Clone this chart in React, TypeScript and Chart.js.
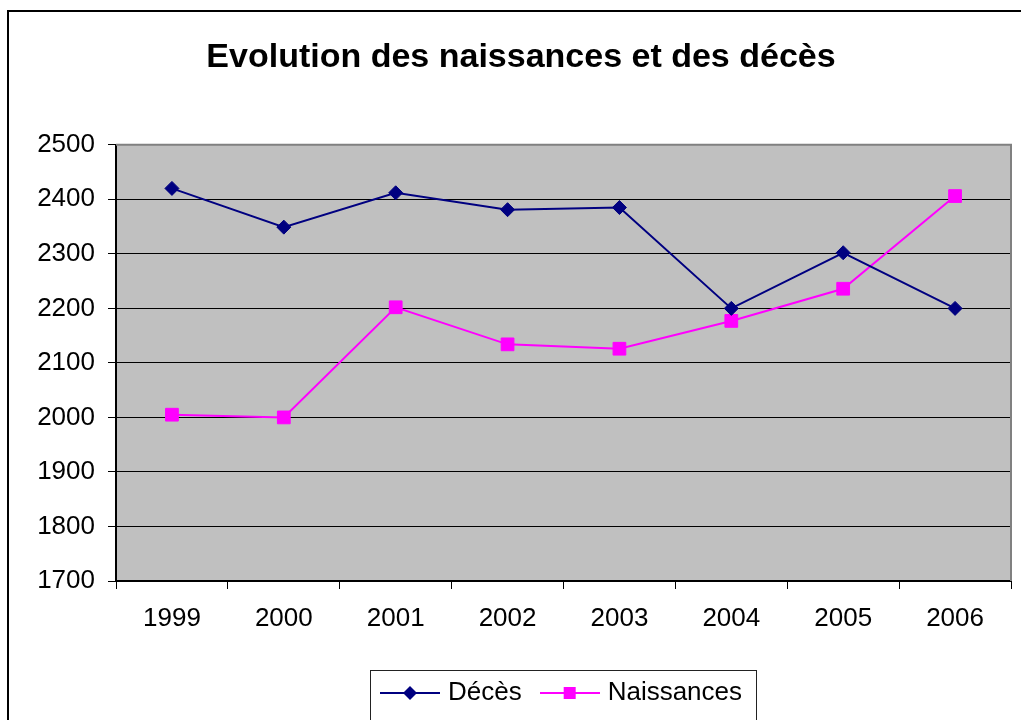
import React, { useEffect, useRef } from "react";
import { Chart, registerables } from "chart.js";

Chart.register(...registerables);

const years = ["1999", "2000", "2001", "2002", "2003", "2004", "2005", "2006"];
const deces = [2420, 2349, 2412, 2381, 2385, 2200, 2302, 2200];
const naissances = [2005, 2000, 2202, 2134, 2126, 2177, 2236, 2406];
const seriesNames = ["Décès", "Naissances"];
const yMin = 1700;
const yMax = 2500;
const yStep = 100;
const titleText = "Evolution des naissances et des décès";

const FONT = "'Liberation Sans', Arial, Helvetica, sans-serif";
const DECES_COLOR = "#000080";
const NAISS_COLOR = "#FF00FF";

function legendIcon(color: string, kind: "diamond" | "square"): HTMLCanvasElement {
  const c = document.createElement("canvas");
  c.width = 60;
  c.height = 20;
  const ctx = c.getContext("2d")!;
  ctx.strokeStyle = color;
  ctx.lineWidth = 2;
  ctx.beginPath();
  ctx.moveTo(0, 10);
  ctx.lineTo(60, 10);
  ctx.stroke();
  ctx.fillStyle = color;
  if (kind === "diamond") {
    ctx.beginPath();
    ctx.moveTo(30, 3);
    ctx.lineTo(37, 10);
    ctx.lineTo(30, 17);
    ctx.lineTo(23, 10);
    ctx.closePath();
    ctx.fill();
  } else {
    ctx.fillRect(24, 4, 12, 12);
  }
  return c;
}

const framePlugin = {
  id: "excelFrame",
  beforeDraw(chart: any) {
    const { ctx, chartArea: a } = chart;
    ctx.save();
    ctx.fillStyle = "#FFFFFF";
    ctx.fillRect(0, 0, chart.width, chart.height);
    ctx.fillStyle = "#C0C0C0";
    ctx.fillRect(a.left, a.top, a.right - a.left, a.bottom - a.top);
    ctx.restore();
  },
  afterDraw(chart: any) {
    const { ctx, chartArea: a } = chart;
    ctx.save();
    ctx.strokeStyle = "#808080";
    ctx.lineWidth = 2;
    ctx.beginPath();
    ctx.moveTo(a.left, a.top);
    ctx.lineTo(a.right, a.top);
    ctx.lineTo(a.right, a.bottom);
    ctx.stroke();
    ctx.strokeStyle = "#000000";
    ctx.lineWidth = 2;
    ctx.strokeRect(8, 11, 3000, 3000);
    const lg = chart.legend;
    const hb = lg && lg.legendHitBoxes;
    if (hb && hb.length) {
      const first = hb[0];
      const last = hb[hb.length - 1];
      const left = first.left - 15;
      const right = last.left + last.width + 14;
      const top = first.top - 10;
      const bottom = first.top + first.height + 23;
      ctx.strokeStyle = "#222222";
      ctx.lineWidth = 1;
      ctx.strokeRect(Math.round(left) + 0.5, Math.round(top) + 0.5, Math.round(right - left), Math.round(bottom - top));
    }
    ctx.restore();
  },
};

export default function App() {
  const ref = useRef<HTMLCanvasElement>(null);

  useEffect(() => {
    if (!ref.current) return;
    Chart.defaults.font.family = FONT;
    const icons = [legendIcon(DECES_COLOR, "diamond"), legendIcon(NAISS_COLOR, "square")];
    const chart = new Chart(ref.current, {
      type: "line",
      data: {
        labels: years,
        datasets: [
          {
            label: seriesNames[0],
            data: deces,
            borderColor: DECES_COLOR,
            backgroundColor: DECES_COLOR,
            borderWidth: 2,
            pointStyle: "rectRot",
            pointRadius: 7,
            pointBorderWidth: 1,
            tension: 0,
          },
          {
            label: seriesNames[1],
            data: naissances,
            borderColor: NAISS_COLOR,
            backgroundColor: NAISS_COLOR,
            borderWidth: 2,
            pointStyle: "rect",
            pointRadius: 9,
            pointBorderWidth: 1,
            tension: 0,
          },
        ],
      },
      options: {
        responsive: false,
        animation: false,
        layout: { padding: { left: 28, right: 7, top: 0, bottom: 4 } },
        plugins: {
          title: {
            display: true,
            text: titleText,
            color: "#000000",
            font: { family: FONT, size: 34, weight: "bold" },
            padding: { top: 37, bottom: 67 },
          },
          legend: {
            display: true,
            position: "bottom",
            fullSize: false,
            labels: {
              color: "#000000",
              font: { family: FONT, size: 26 },
              usePointStyle: true,
              pointStyleWidth: 50,
              padding: 23,
              generateLabels: (c: any) => {
                const items = (Chart.defaults as any).plugins.legend.labels.generateLabels(c);
                items.forEach((it: any, i: number) => {
                  it.pointStyle = icons[i];
                });
                return items;
              },
            },
          },
          tooltip: { enabled: false },
        },
        scales: {
          x: {
            type: "category",
            offset: true,
            afterFit: (s: any) => {
              s.height = 76;
            },
            grid: {
              display: true,
              drawOnChartArea: false,
              drawTicks: true,
              tickLength: 8,
              color: "#000000",
              offset: true,
            },
            border: { display: true, color: "#000000", width: 2 },
            ticks: {
              color: "#000000",
              font: { family: FONT, size: 26 },
              padding: 14,
              maxRotation: 0,
              autoSkip: false,
            },
          },
          y: {
            type: "linear",
            min: yMin,
            max: yMax,
            afterFit: (s: any) => {
              s.width = 88;
            },
            grid: {
              display: true,
              drawOnChartArea: true,
              drawTicks: true,
              tickLength: 8,
              color: "#000000",
              lineWidth: 1,
            },
            border: { display: true, color: "#000000", width: 2 },
            ticks: {
              stepSize: yStep,
              color: "#000000",
              font: { family: FONT, size: 26 },
              padding: 13,
              callback: (v: any) => String(v),
            },
          },
        },
      },
      plugins: [framePlugin],
    } as any);
    return () => chart.destroy();
  }, []);

  return (
    <div style={{ position: "fixed", left: 0, top: 0, width: 1021, height: 720 }}>
      <canvas ref={ref} width={1021} height={720} style={{ display: "block" }} />
    </div>
  );
}
